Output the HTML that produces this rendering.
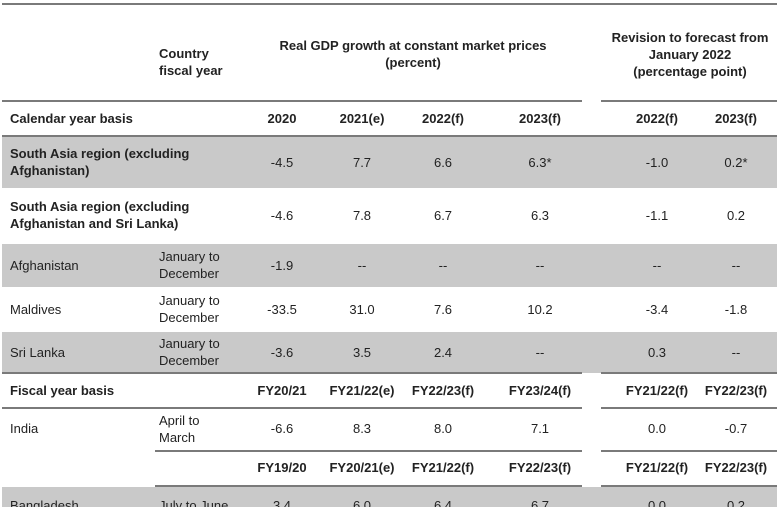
<!DOCTYPE html>
<html><head><meta charset="utf-8"><style>
body{margin:0;background:#fff;}
#t{position:relative;width:780px;height:507px;overflow:hidden;font-family:"Liberation Sans",sans-serif;font-size:13px;color:#222;}
.g{position:absolute;background:#c9c9c9;}
.l{position:absolute;height:2px;background:#7a7a7a;}
.c{position:absolute;text-align:center;transform:translateX(-50%);white-space:nowrap;line-height:17px;margin-top:-1px;}
.x{position:absolute;white-space:nowrap;line-height:17px;margin-top:-1px;}
.b{font-weight:bold;}
</style></head><body>
<div id="t">
<div class="g" style="left:2px;top:137px;width:775px;height:51px"></div>
<div class="g" style="left:2px;top:244px;width:775px;height:43px"></div>
<div class="g" style="left:2px;top:332px;width:775px;height:41px"></div>
<div class="g" style="left:2px;top:487px;width:775px;height:20px"></div>

<div class="l" style="left:2px;top:3px;width:775px"></div>
<div class="l" style="left:2px;top:100px;width:580px"></div>
<div class="l" style="left:601px;top:100px;width:176px"></div>
<div class="l" style="left:2px;top:135px;width:775px"></div>
<div class="l" style="left:2px;top:372px;width:580px"></div>
<div class="l" style="left:601px;top:372px;width:176px"></div>
<div class="l" style="left:2px;top:407px;width:580px"></div>
<div class="l" style="left:601px;top:407px;width:176px"></div>
<div class="l" style="left:155px;top:450px;width:427px"></div>
<div class="l" style="left:601px;top:450px;width:176px"></div>
<div class="l" style="left:155px;top:485px;width:427px"></div>
<div class="l" style="left:601px;top:485px;width:176px"></div>

<div class="x b" style="left:159px;top:46px">Country<br>fiscal year</div>
<div class="c b" style="left:413px;top:38px;text-align:center">Real GDP growth at constant market prices<br>(percent)</div>
<div class="c b" style="left:690px;top:30px">Revision to forecast from<br>January 2022<br>(percentage point)</div>

<div class="x b" style="left:10px;top:111px">Calendar year basis</div>
<div class="c b" style="left:282px;top:111px">2020</div>
<div class="c b" style="left:362px;top:111px">2021(e)</div>
<div class="c b" style="left:443px;top:111px">2022(f)</div>
<div class="c b" style="left:540px;top:111px">2023(f)</div>
<div class="c b" style="left:657px;top:111px">2022(f)</div>
<div class="c b" style="left:736px;top:111px">2023(f)</div>

<div class="x b" style="left:10px;top:146px">South Asia region (excluding<br>Afghanistan)</div>
<div class="c" style="left:282px;top:155px">-4.5</div><div class="c" style="left:362px;top:155px">7.7</div><div class="c" style="left:443px;top:155px">6.6</div><div class="c" style="left:540px;top:155px">6.3*</div><div class="c" style="left:657px;top:155px">-1.0</div><div class="c" style="left:736px;top:155px">0.2*</div>

<div class="x b" style="left:10px;top:199px">South Asia region (excluding<br>Afghanistan and Sri Lanka)</div>
<div class="c" style="left:282px;top:208px">-4.6</div><div class="c" style="left:362px;top:208px">7.8</div><div class="c" style="left:443px;top:208px">6.7</div><div class="c" style="left:540px;top:208px">6.3</div><div class="c" style="left:657px;top:208px">-1.1</div><div class="c" style="left:736px;top:208px">0.2</div>

<div class="x" style="left:10px;top:258px">Afghanistan</div>
<div class="x" style="left:159px;top:249px">January to<br>December</div>
<div class="c" style="left:282px;top:258px">-1.9</div><div class="c" style="left:362px;top:258px">--</div><div class="c" style="left:443px;top:258px">--</div><div class="c" style="left:540px;top:258px">--</div><div class="c" style="left:657px;top:258px">--</div><div class="c" style="left:736px;top:258px">--</div>

<div class="x" style="left:10px;top:302px">Maldives</div>
<div class="x" style="left:159px;top:293px">January to<br>December</div>
<div class="c" style="left:282px;top:302px">-33.5</div><div class="c" style="left:362px;top:302px">31.0</div><div class="c" style="left:443px;top:302px">7.6</div><div class="c" style="left:540px;top:302px">10.2</div><div class="c" style="left:657px;top:302px">-3.4</div><div class="c" style="left:736px;top:302px">-1.8</div>

<div class="x" style="left:10px;top:345px">Sri Lanka</div>
<div class="x" style="left:159px;top:336px">January to<br>December</div>
<div class="c" style="left:282px;top:345px">-3.6</div><div class="c" style="left:362px;top:345px">3.5</div><div class="c" style="left:443px;top:345px">2.4</div><div class="c" style="left:540px;top:345px">--</div><div class="c" style="left:657px;top:345px">0.3</div><div class="c" style="left:736px;top:345px">--</div>

<div class="x b" style="left:10px;top:383px">Fiscal year basis</div>
<div class="c b" style="left:282px;top:383px">FY20/21</div><div class="c b" style="left:362px;top:383px">FY21/22(e)</div><div class="c b" style="left:443px;top:383px">FY22/23(f)</div><div class="c b" style="left:540px;top:383px">FY23/24(f)</div><div class="c b" style="left:657px;top:383px">FY21/22(f)</div><div class="c b" style="left:736px;top:383px">FY22/23(f)</div>

<div class="x" style="left:10px;top:421px">India</div>
<div class="x" style="left:159px;top:413px">April to<br>March</div>
<div class="c" style="left:282px;top:421px">-6.6</div><div class="c" style="left:362px;top:421px">8.3</div><div class="c" style="left:443px;top:421px">8.0</div><div class="c" style="left:540px;top:421px">7.1</div><div class="c" style="left:657px;top:421px">0.0</div><div class="c" style="left:736px;top:421px">-0.7</div>

<div class="c b" style="left:282px;top:460px">FY19/20</div><div class="c b" style="left:362px;top:460px">FY20/21(e)</div><div class="c b" style="left:443px;top:460px">FY21/22(f)</div><div class="c b" style="left:540px;top:460px">FY22/23(f)</div><div class="c b" style="left:657px;top:460px">FY21/22(f)</div><div class="c b" style="left:736px;top:460px">FY22/23(f)</div>

<div class="x" style="left:10px;top:498px">Bangladesh</div>
<div class="x" style="left:159px;top:498px">July to June</div>
<div class="c" style="left:282px;top:498px">3.4</div><div class="c" style="left:362px;top:498px">6.0</div><div class="c" style="left:443px;top:498px">6.4</div><div class="c" style="left:540px;top:498px">6.7</div><div class="c" style="left:657px;top:498px">0.0</div><div class="c" style="left:736px;top:498px">0.2</div>
</div>
</body></html>
